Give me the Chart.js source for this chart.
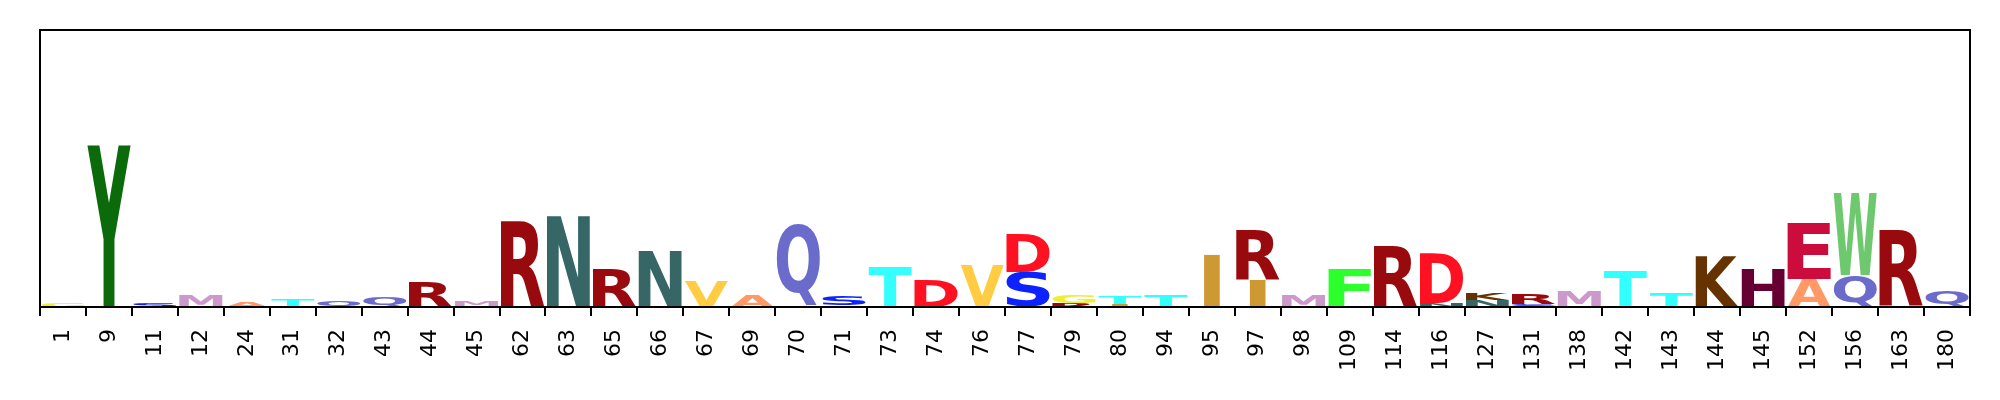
<!DOCTYPE html>
<html>
<head>
<meta charset="utf-8">
<script src="https://cdn.jsdelivr.net/npm/chart.js@4"></script>
<style>
  html, body { margin: 0; padding: 0; background: #ffffff; }
  canvas { display: block; }
</style>
</head>
<body>
<canvas id="c" width="2000" height="400"></canvas>
<script>
// Sequence positions (x categories)
const positions = ['1','9','11','12','24','31','32','43','44','45','62','63','65','66','67','69','70','71','73','74','76','77','79','80','94','95','97','98','109','114','116','127','131','138','142','143','144','145','152','156','163','180'];

// Lower letter of each stack and its height (bits)
const lowerLetters = ['G','Y','S','M','A','T','Q','Q','R','T','W','K','R','N','V','A','R','I','T','D','V','S','R','I','T','I','I','M','F','R','N','N','S','M','T','T','K','H','A','Q','I','Q'];
const lowerHeights = [0.058,2.508,0.054,0.180,0.070,0.112,0.087,0.140,0.389,0.020,0.023,0.016,0.583,0.879,0.404,0.171,0.023,0.023,0.631,0.428,0.645,0.544,0.067,0.042,0.179,0.804,0.420,0.190,0.596,0.956,0.058,0.104,0.042,0.233,0.580,0.218,0.793,0.596,0.435,0.502,0.016,0.243];

// Upper letter of each stack and its height (bits)
const upperLetters = ['','','','','','','','','','M','R','N','','','','','Q','S','','','','D','G','T','','','R','','','','D','K','R','','','','','','E','W','R',''];
const upperHeights = [0,0,0,0,0,0,0,0,0,0.082,1.322,1.407,0,0,0,0,1.267,0.140,0,0,0,0.580,0.129,0.129,0,0,0.762,0,0,0,0.778,0.104,0.156,0,0,0,0,0,0.879,1.280,1.186,0];

const yMax = 4.32;

const letterColors = {
  A:'#ff9966', D:'#ff1122', E:'#cc0c3c', F:'#2cff2c', G:'#eeee33', H:'#660033',
  I:'#cc9933', K:'#663300', M:'#cc99cc', N:'#366766', Q:'#6b6bcc', R:'#990a0e',
  S:'#0c22ff', T:'#33ffff', V:'#ffcc44', W:'#6ec86e', Y:'#0b6b0b'
};

const logoPlugin = {
  id: 'logoLetters',
  afterDatasetsDraw(chart) {
    const ctx = chart.ctx;
    ctx.save();
    ctx.font = 'bold 200px "DejaVu Sans"';
    const mE = ctx.measureText('E');
    const eWidth = mE.actualBoundingBoxLeft + mE.actualBoundingBoxRight;
    ctx.restore();
    chart.data.datasets.forEach((ds, di) => {
      const meta = chart.getDatasetMeta(di);
      meta.data.forEach((el, i) => {
        const ch = ds.letters[i];
        if (!ch || !ds.data[i]) return;
        const p = el.getProps(['x', 'y', 'base', 'width'], true);
        const top = Math.min(p.y, p.base);
        const h = Math.abs(p.base - p.y);
        const w = p.width;
        ctx.save();
        ctx.font = 'bold 200px "DejaVu Sans"';
        ctx.textAlign = 'left';
        ctx.textBaseline = 'alphabetic';
        const m = ctx.measureText(ch);
        const iw = m.actualBoundingBoxLeft + m.actualBoundingBoxRight;
        const ih = m.actualBoundingBoxAscent + m.actualBoundingBoxDescent;
        const sx = Math.min(w / iw, w / eWidth);
        const drawnW = iw * sx;
        ctx.translate(p.x - drawnW / 2, top);
        ctx.scale(sx, h / ih);
        ctx.fillStyle = letterColors[ch] || '#000';
        ctx.fillText(ch, m.actualBoundingBoxLeft, m.actualBoundingBoxAscent);
        ctx.restore();
      });
    });
  },
  afterDraw(chart) {
    const a = chart.chartArea;
    const ctx = chart.ctx;
    ctx.save();
    ctx.strokeStyle = '#000';
    ctx.lineWidth = 2;
    ctx.strokeRect(a.left, a.top, a.right - a.left, a.bottom - a.top);
    ctx.restore();
  }
};

new Chart(document.getElementById('c'), {
  type: 'bar',
  data: {
    labels: positions,
    datasets: [
      { data: lowerHeights, letters: lowerLetters, backgroundColor: 'rgba(0,0,0,0)', borderWidth: 0, barPercentage: 0.94, categoryPercentage: 1.0 },
      { data: upperHeights, letters: upperLetters, backgroundColor: 'rgba(0,0,0,0)', borderWidth: 0, barPercentage: 0.94, categoryPercentage: 1.0 }
    ]
  },
  options: {
    responsive: false,
    animation: false,
    devicePixelRatio: 1,
    layout: { padding: { left: 40, right: 30, top: 30, bottom: 0 } },
    plugins: { legend: { display: false }, tooltip: { enabled: false } },
    scales: {
      x: {
        stacked: true,
        offset: true,
        border: { display: false },
        grid: { display: true, drawOnChartArea: false, drawTicks: true, tickLength: 9, color: '#000', lineWidth: 2 },
        ticks: {
          autoSkip: false, maxRotation: 90, minRotation: 90, padding: 13,
          color: '#000', font: { family: '"DejaVu Sans"', size: 22 }
        },
        afterFit(scale) { scale.height = 93; }
      },
      y: {
        stacked: true,
        display: false,
        min: 0,
        max: yMax
      }
    }
  },
  plugins: [logoPlugin]
});
</script>
</body>
</html>
